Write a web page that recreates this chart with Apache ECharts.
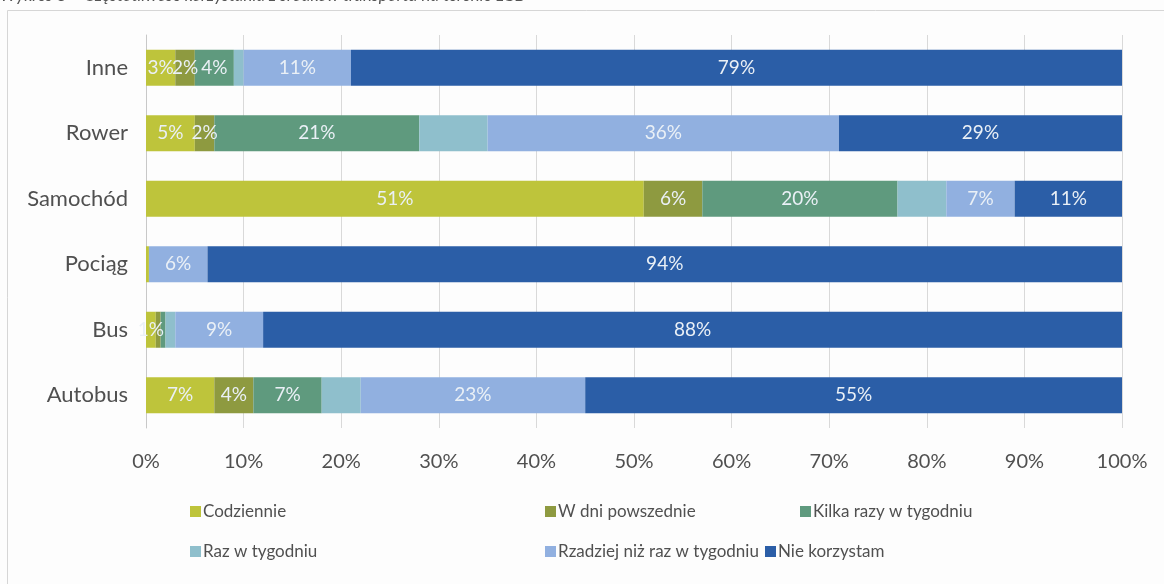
<!DOCTYPE html>
<html>
<head>
<meta charset="utf-8">
<script src="https://cdn.jsdelivr.net/npm/echarts@6.0.0/dist/echarts.min.js"></script>
<style>
  html, body { margin: 0; padding: 0; background: #fdfdfd; }
  #chart { width: 1164px; height: 584px; }
</style>
</head>
<body>
<div id="chart"></div>
<script>
// Transport modes (top to bottom)
const categories = ['Inne', 'Rower', 'Samochód', 'Pociąg', 'Bus', 'Autobus'];

// Share of respondents per frequency of use, in percent
const codziennie = [3, 5, 51, 0.3, 1, 7];
const wDniPowszednie = [2, 2, 6, 0, 0.5, 4];
const kilkaRazy = [4, 21, 20, 0, 0.5, 7];
const razWTygodniu = [1, 7, 5, 0, 1, 4];
const rzadziej = [11, 36, 7, 6, 9, 23];
const nieKorzystam = [79, 29, 11, 94, 88, 55];

const xTicks = [0, 10, 20, 30, 40, 50, 60, 70, 80, 90, 100];

const seriesDefs = [
  { name: 'Codziennie', data: codziennie, color: '#bec43b', label: true },
  { name: 'W dni powszednie', data: wDniPowszednie, color: '#8e9a40', label: true },
  { name: 'Kilka razy w tygodniu', data: kilkaRazy, color: '#5f9a7e', label: true },
  { name: 'Raz w tygodniu', data: razWTygodniu, color: '#8fbfcc', label: false },
  { name: 'Rzadziej niż raz w tygodniu', data: rzadziej, color: '#91b0e0', label: true },
  { name: 'Nie korzystam', data: nieKorzystam, color: '#2b5ea7', label: true }
];

const FONT = 'Lato';
const TEXT = '#505050';

const series = seriesDefs.map(d => ({
  name: d.name,
  type: 'bar',
  stack: 'total',
  barWidth: 36,
  data: d.data,
  itemStyle: { color: d.color },
  label: {
    show: d.label,
    position: 'inside',
    color: '#eaf0f6',
    fontFamily: FONT,
    fontSize: 19,
    formatter: p => (p.value >= 1 ? p.value + '%' : '')
  }
}));

// Legend laid out as two rows of three entries
const legendPlaces = [
  { name: 'Codziennie', left: 190, top: 503 },
  { name: 'W dni powszednie', left: 545, top: 503 },
  { name: 'Kilka razy w tygodniu', left: 800, top: 503 },
  { name: 'Raz w tygodniu', left: 190, top: 543 },
  { name: 'Rzadziej niż raz w tygodniu', left: 545, top: 543 },
  { name: 'Nie korzystam', left: 765, top: 543 }
];
const legend = legendPlaces.map(l => ({
  data: [l.name],
  left: l.left,
  top: l.top,
  padding: 0,
  itemWidth: 11,
  itemHeight: 11,
  icon: 'rect',
  selectedMode: false,
  textStyle: { fontFamily: FONT, fontSize: 17, color: TEXT, padding: [0, 0, 0, -3] }
}));

const chart = echarts.init(document.getElementById('chart'), null, { renderer: 'canvas' });
chart.setOption({
  animation: false,
  backgroundColor: '#fdfdfd',
  grid: { left: 146, right: 42, top: 35, bottom: 156, containLabel: false },
  graphic: [
    {
      type: 'rect',
      shape: { x: 7.5, y: 10.5, width: 1200, height: 640 },
      style: { fill: 'none', stroke: '#d6d6d6', lineWidth: 1 },
      silent: true
    },
    {
      type: 'text',
      left: 0,
      top: -13,
      style: {
        text: 'Wykres 8 – Częstotliwość korzystania z środków transportu na terenie LGD',
        font: 'italic 17px Lato',
        fill: '#555'
      },
      silent: true
    }
  ],
  legend: legend,
  xAxis: {
    type: 'value',
    min: xTicks[0],
    max: xTicks[xTicks.length - 1],
    interval: xTicks[1] - xTicks[0],
    axisLine: { show: false },
    axisTick: { show: false },
    splitLine: { show: true, lineStyle: { color: '#d9d9d9', width: 1 } },
    axisLabel: {
      formatter: '{value}%',
      margin: 24,
      color: TEXT,
      fontFamily: FONT,
      fontSize: 20
    }
  },
  yAxis: {
    type: 'category',
    data: categories,
    inverse: true,
    axisTick: { show: false },
    axisLine: { show: true, lineStyle: { color: '#c8c8c8' } },
    axisLabel: {
      margin: 18,
      color: TEXT,
      fontFamily: FONT,
      fontSize: 22
    }
  },
  series: series
});
</script>
</body>
</html>
